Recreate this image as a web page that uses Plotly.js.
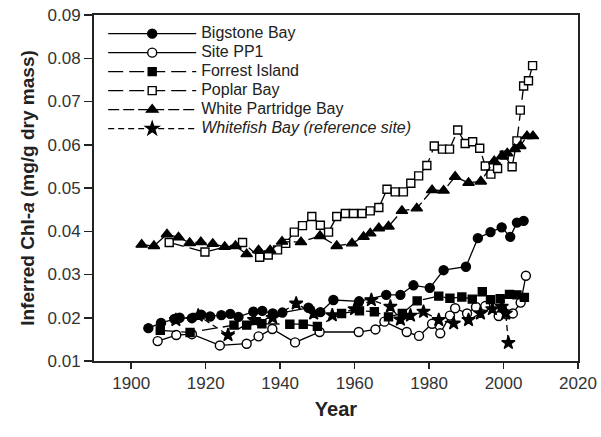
<!DOCTYPE html>
<html>
<head>
<meta charset="utf-8">
<script src="https://cdn.plot.ly/plotly-3.0.1.min.js"></script>
<style>html,body{margin:0;padding:0;background:#fff;}#chart{width:601px;height:437px;}</style>
</head>
<body>
<div id="chart"></div>
<script>
// Bigstone Bay (filled circles)
const bigstoneYear = [1904.6,1908.0,1911.6,1913.0,1916.3,1918.8,1921.2,1924.2,1926.6,1928.8,1932.8,1935.2,1938.0,1940.6,1947.6,1950.8,1954.3,1961.2,1968.5,1972.3,1975.8,1980.2,1983.9,1989.9,1993.1,1996.5,1999.5,2001.8,2003.6,2005.4];
const bigstoneVal  = [0.0176,0.0188,0.0197,0.0200,0.0199,0.0207,0.0203,0.0206,0.0209,0.0202,0.0214,0.0216,0.0210,0.0212,0.0223,0.0213,0.0241,0.0238,0.0253,0.0253,0.0275,0.0269,0.0310,0.0318,0.0384,0.0398,0.0409,0.0387,0.0420,0.0424];

// Site PP1 (open circles)
const pp1Year = [1907.1,1912.1,1916.3,1923.8,1931.0,1934.2,1937.9,1944.0,1950.6,1961.1,1965.6,1968.0,1974.0,1977.3,1980.8,1983.0,1985.6,1987.0,1990.2,1992.6,1995.1,1998.7,2000.9,2002.5,2004.6,2006.0];
const pp1Val  = [0.0146,0.0160,0.0162,0.0136,0.0140,0.0157,0.0174,0.0143,0.0167,0.0167,0.0173,0.0191,0.0167,0.0158,0.0186,0.0164,0.0205,0.0222,0.0210,0.0225,0.0227,0.0204,0.0208,0.0210,0.0235,0.0297];

// Forrest Island (filled squares)
const forrestYear = [1907.8,1915.8,1927.6,1931.0,1935.1,1942.6,1946.2,1950.0,1956.5,1961.3,1965.3,1969.1,1972.8,1976.8,1982.6,1985.6,1988.8,1991.6,1994.3,1996.5,1999.1,2001.6,2003.6,2005.6];
const forrestVal  = [0.0171,0.0166,0.0183,0.0183,0.0186,0.0185,0.0185,0.0180,0.0210,0.0216,0.0214,0.0202,0.0210,0.0239,0.0250,0.0245,0.0248,0.0243,0.0260,0.0242,0.0244,0.0254,0.0253,0.0247];

// Poplar Bay (open squares)
const poplarYear = [1910.2,1919.8,1929.9,1934.5,1936.8,1939.3,1941.5,1943.8,1946.0,1948.5,1950.8,1953.0,1955.2,1957.5,1959.7,1962.0,1964.2,1966.5,1968.7,1970.9,1973.1,1975.1,1977.2,1979.4,1981.4,1983.6,1985.5,1987.7,1989.7,1991.7,1993.6,1995.1,1996.6,1998.4,2000.2,2002.3,2003.6,2004.5,2005.4,2006.7,2007.8];
const poplarVal  = [0.0374,0.0352,0.0374,0.0340,0.0345,0.0357,0.0372,0.0398,0.0413,0.0434,0.0414,0.0398,0.0434,0.0441,0.0441,0.0441,0.0447,0.0455,0.0497,0.0491,0.0491,0.0511,0.0528,0.0552,0.0597,0.0590,0.0590,0.0634,0.0603,0.0607,0.0592,0.0551,0.0532,0.0545,0.0576,0.0549,0.0609,0.0680,0.0736,0.0748,0.0783];

// White Partridge Bay (filled triangles)
const partridgeYear = [1902.8,1906.1,1909.6,1912.7,1915.7,1918.7,1921.9,1925.1,1928.0,1931.0,1934.2,1937.3,1940.5,1945.6,1950.7,1955.2,1959.3,1962.4,1964.2,1966.5,1969.1,1972.7,1976.7,1980.8,1983.9,1987.0,1990.6,1993.9,1997.5,1999.6,2001.0,2003.0,2004.5,2006.3,2007.9];
const partridgeVal  = [0.0369,0.0366,0.0393,0.0386,0.0373,0.0375,0.0371,0.0364,0.0366,0.0347,0.0356,0.0356,0.0376,0.0375,0.0389,0.0366,0.0372,0.0387,0.0395,0.0407,0.0411,0.0447,0.0453,0.0495,0.0494,0.0526,0.0512,0.0515,0.0562,0.0574,0.0580,0.0590,0.0597,0.0620,0.0620];

// Whitefish Bay (reference site) (stars)
const whitefishYear = [1912.0,1918.0,1926.0,1933.0,1938.0,1944.3,1949.0,1954.0,1960.0,1964.5,1969.6,1972.3,1975.0,1978.5,1982.6,1986.6,1990.6,1993.8,1997.0,1999.5,2000.6,2001.3];
const whitefishVal  = [0.0195,0.0205,0.0160,0.0195,0.0200,0.0233,0.0210,0.0206,0.0220,0.0241,0.0226,0.0196,0.0205,0.0214,0.0195,0.0187,0.0195,0.0210,0.0220,0.0226,0.0210,0.0142];

const seriesNames = ["Bigstone Bay","Site PP1","Forrest Island","Poplar Bay","White Partridge Bay","<i>Whitefish Bay (reference site)</i>"];
const xTickVals = [1900,1920,1940,1960,1980,2000,2020];
const yTickVals = [0.01,0.02,0.03,0.04,0.05,0.06,0.07,0.08,0.09];

const legendSpan = s => '<span style="font-size:16px">' + s + '</span>';

function tr(x, y, name, symbol, fill, size, dash) {
  return {
    x: x, y: y, name: legendSpan(name), type: 'scatter', mode: 'lines+markers',
    line: {color: '#000', width: 1.3, dash: dash},
    marker: {symbol: symbol, size: size, color: fill, line: {color: '#000', width: 1.4}}
  };
}

const data = [
  tr(bigstoneYear, bigstoneVal, seriesNames[0], 'circle', '#000', 9, 'solid'),
  tr(pp1Year, pp1Val, seriesNames[1], 'circle', '#fff', 9, 'solid'),
  tr(forrestYear, forrestVal, seriesNames[2], 'square', '#000', 8, '15px,6px'),
  tr(poplarYear, poplarVal, seriesNames[3], 'square', '#fff', 8, '15px,6px'),
  tr(partridgeYear, partridgeVal, seriesNames[4], 'triangle-up', '#000', 10, '11px,4px'),
  tr(whitefishYear, whitefishVal, seriesNames[5], 'star', '#000', 10, '6px,4px')
];

const fam = 'Liberation Sans, Arial, sans-serif';
const tickFont = {family: fam, size: 17, color: '#333'};

const layout = {
  width: 601, height: 437,
  margin: {l: 94, r: 23, t: 15, b: 76},
  paper_bgcolor: '#fff', plot_bgcolor: '#fff',
  showlegend: true,
  legend: {
    x: 0.019, y: 0.988, xanchor: 'left', yanchor: 'top',
    bgcolor: 'rgba(0,0,0,0)', borderwidth: 0,
    font: {family: fam, size: 11, color: '#222'},
    itemwidth: 88, tracegroupgap: 0
  },
  xaxis: {
    range: [1890, 2020], tickvals: xTickVals, ticktext: xTickVals.map(String),
    showgrid: false, zeroline: false,
    showline: true, linecolor: '#222', linewidth: 2, mirror: true,
    ticks: 'outside', ticklen: 6, tickwidth: 1.5, tickcolor: '#222',
    tickfont: tickFont,
    title: {text: '<b>Year</b>', font: {family: fam, size: 20, color: '#222'}, standoff: 10}
  },
  yaxis: {
    range: [0.01, 0.09], tickvals: yTickVals, ticktext: yTickVals.map(v => v.toFixed(2)),
    showgrid: false, zeroline: false,
    showline: true, linecolor: '#222', linewidth: 2, mirror: true,
    ticks: 'outside', ticklen: 8, tickwidth: 1.5, tickcolor: '#222',
    tickfont: tickFont,
    title: {text: '<b>Inferred Chl-<i>a</i> (mg/g dry mass)</b>', font: {family: fam, size: 19, color: '#222'}, standoff: 8}
  }
};

Plotly.newPlot('chart', data, layout, {staticPlot: true, displayModeBar: false});
</script>
</body>
</html>
